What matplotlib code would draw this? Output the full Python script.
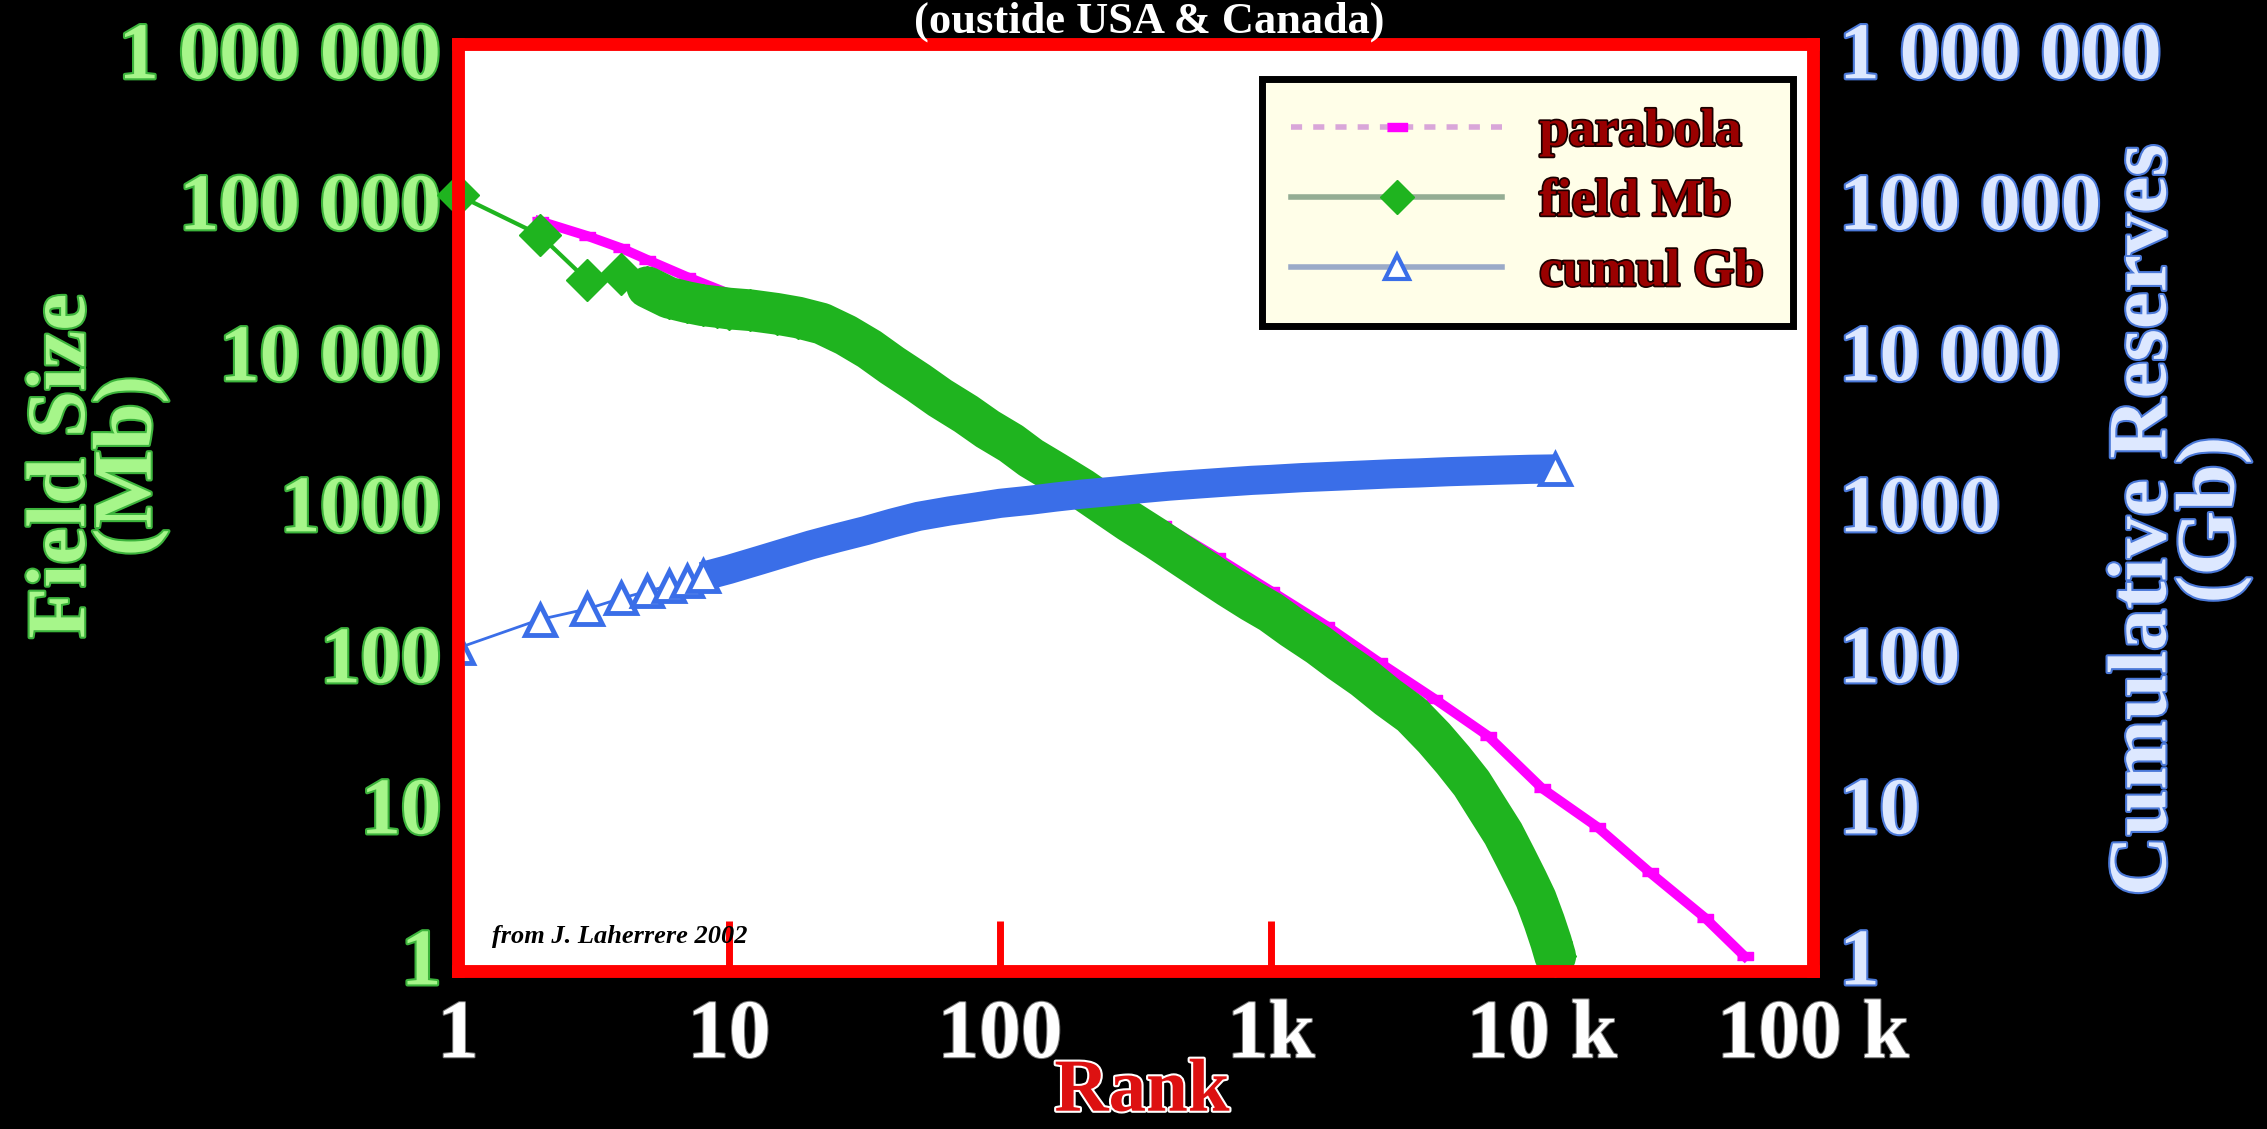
import numpy as np
import matplotlib.pyplot as plt
import matplotlib.patheffects as pe
from matplotlib.lines import Line2D
from matplotlib.ticker import NullLocator

plt.rcParams['font.family'] = ['Liberation Serif', 'DejaVu Serif']
plt.rcParams['font.weight'] = 'bold'

# field sizes (Mb) by rank
green_rank = [1, 2, 3, 4, 5, 6, 7, 8, 9, 10, 12, 15, 18, 22, 27, 33, 40, 50, 60, 75,
              90, 110, 130, 160, 200, 250, 300, 380, 470, 580, 700, 850, 1000, 1200,
              1500, 1800, 2200, 2700, 3300, 4000, 4700, 5500, 6300, 7200, 8000, 8800,
              9500, 10200, 10800, 11200]
green_mb = [110000, 60000, 30000, 33000, 27000, 23000, 21500, 20500, 20000, 19500,
            19000, 18000, 17000, 15500, 13000, 10500, 8200, 6300, 5000, 3900,
            3100, 2500, 2000, 1600, 1250, 950, 760, 580, 450, 350, 280, 225, 190, 150,
            115, 90, 70, 52, 40, 28, 20, 14, 9.5, 6.5, 4.5, 3.2,
            2.4, 1.7, 1.25, 1.0]

# parabola fit (Mb)
par_rank = [2, 3, 4, 5, 7, 10, 16, 25, 40, 63, 100, 160, 250, 400, 630, 1000, 1600,
            2500, 4000, 6300, 10000, 16000, 25000, 40000, 56000]
par_mb = [74000, 59000, 49000, 41000, 31600, 24500, 16600, 11200, 7400, 4800, 3000,
          1900, 1170, 720, 440, 263, 155, 89, 51, 29, 13, 7.2, 3.6, 1.8, 1.0]

# cumulative reserves (Gb)
blue_rank = [1, 2, 3, 4, 5, 6, 7, 8, 10, 13, 16, 20, 25, 32, 40, 50, 65, 80, 100, 130,
             160, 200, 260, 330, 420, 530, 670, 850, 1000, 1300, 1700, 2200, 2800,
             3500, 4500, 5600, 7000, 9000, 11200]
blue_gb = [110, 170, 200, 235, 262, 285, 307, 328, 365, 420, 470, 530, 590, 660, 740,
           820, 890, 940, 1000, 1050, 1100, 1150, 1200, 1250, 1300, 1340, 1380, 1420,
           1440, 1480, 1510, 1540, 1570, 1590, 1620, 1640, 1660, 1680, 1690]

x_ticks = [1, 10, 100, 1000, 10000, 100000]
x_labels = ['1', '10', '100', '1k', '10 k', '100 k']
y_ticks = [1, 10, 100, 1000, 10000, 100000, 1000000]
y_labels = ['1', '10', '100', '1000', '10 000', '100 000', '1 000 000']

green = '#1fb41f'
mag = '#ff00ff'
blue = '#3a6ee8'

fig = plt.figure(figsize=(22.67, 11.29), dpi=100, facecolor='black')
ax = fig.add_axes([0.2020, 0.1399, 0.5977, 0.8211])
ax.set_facecolor('white')
ax.set_xscale('log')
ax.set_yscale('log')
ax.set_xlim(1, 1e5)
ax.set_ylim(0.8, 1.1e6)

ax2 = ax.twinx()
ax2.set_yscale('log')
ax2.set_ylim(0.8, 1.1e6)

# parabola
rect = [(-1, -0.45), (1, -0.45), (1, 0.45), (-1, 0.45)]
ax.plot(par_rank, par_mb, color=mag, lw=7, zorder=2)
ax.plot(par_rank, par_mb, ls='none', marker=rect, ms=12, color=mag, zorder=2)

# field sizes
gr = np.array(green_rank)
gv = np.array(green_mb)
dense = gr >= 5
ax.plot(gr[dense], gv[dense], color=green, lw=30, solid_capstyle='round', zorder=3)
ax.plot(gr, gv, color=green, lw=3, marker='D', ms=21, mfc=green, mec=green,
        zorder=4, clip_on=False)

# cumulative
br = np.array(blue_rank)
bv = np.array(blue_gb)
dense_b = br >= 8
ax2.plot(br[dense_b], bv[dense_b], color=blue, lw=21, solid_capstyle='butt', zorder=3)
ax2.plot(br, bv, color=blue, lw=2, zorder=3)
idx = [i for i, r in enumerate(blue_rank) if r <= 8] + [len(blue_rank) - 1]
ax2.plot(br, bv, ls='none', marker='^', ms=21, mfc='white', mec=blue, mew=3.5,
         markevery=idx, zorder=4)

for a in (ax, ax2):
    for s in a.spines.values():
        s.set_color('red')
        s.set_linewidth(9)
        s.set_zorder(5)

ax.set_xticks(x_ticks)
ax.set_xticklabels(x_labels, path_effects=[pe.withStroke(linewidth=1.5, foreground='#777777')])
ax.xaxis.set_minor_locator(NullLocator())
ax.tick_params(axis='x', direction='in', length=36, width=5, color='red', pad=21,
               labelsize=60, labelcolor='white')

ax.set_yticks(y_ticks)
ax.set_yticklabels(y_labels, path_effects=[pe.withStroke(linewidth=3, foreground='#3cb43c')])
ax.yaxis.set_minor_locator(NullLocator())
ax.tick_params(axis='y', length=0, pad=12, labelsize=58, labelcolor='#a6f68a')

ax2.set_yticks(y_ticks)
ax2.set_yticklabels(y_labels, path_effects=[pe.withStroke(linewidth=3, foreground='#4a78d8')])
ax2.yaxis.set_minor_locator(NullLocator())
ax2.tick_params(axis='y', length=0, pad=19, labelsize=58, labelcolor='#dde8ff')

# legend
handles = [
    Line2D([], [], color='#d9a6d9', ls=(0, (2, 2)), lw=4, marker=rect, ms=14, mfc=mag, mec=mag),
    Line2D([], [], color='#94ad94', lw=4, marker='D', ms=17, mfc=green, mec=green),
    Line2D([], [], color='#9aaac8', lw=4, marker='^', ms=17, mfc='white', mec=blue, mew=3),
]
leg = ax2.legend(handles, ['parabola', 'field Mb', 'cumul Gb'], loc='upper right',
                 bbox_to_anchor=(0.985, 0.962), frameon=True, fancybox=False,
                 facecolor='#fffee8', edgecolor='black', framealpha=1, fontsize=38,
                 handlelength=4, handletextpad=0.7, labelspacing=0.42, borderpad=0.55,
                 borderaxespad=0)
leg.get_frame().set_linewidth(5)
leg.set_zorder(10)
for t in leg.get_texts():
    t.set_color('#9a0000')
    t.set_path_effects([pe.withStroke(linewidth=2.5, foreground='#1a0000')])

fig.text(0.0432, 1 - 466 / 1129, 'Field Size\n(Mb)', rotation=90, ha='center', va='center',
         fontsize=60, color='#a6f68a', linespacing=0.85,
         path_effects=[pe.withStroke(linewidth=3, foreground='#3cb43c')])
fig.text(2180 / 2267, 1 - 520 / 1129, 'Cumulative Reserves\n(Gb)', rotation=90, ha='center',
         va='center', fontsize=60, color='#dde8ff', linespacing=0.88,
         path_effects=[pe.withStroke(linewidth=3, foreground='#4a78d8')])
fig.text(1142 / 2267, 0.002, 'Rank', ha='center', va='bottom', fontsize=54,
         color='#dd1111', path_effects=[pe.withStroke(linewidth=3, foreground='white')])
fig.text(0.507, 1 - 33 / 1129, '(oustide USA & Canada)', ha='center', va='baseline',
         fontsize=32, color='white')
fig.text(492 / 2267, 1 - 937 / 1129, 'from J. Laherrere 2002', ha='left', va='center',
         fontsize=19, style='italic', color='black')

fig.savefig('out.png', dpi=100, facecolor='black')
